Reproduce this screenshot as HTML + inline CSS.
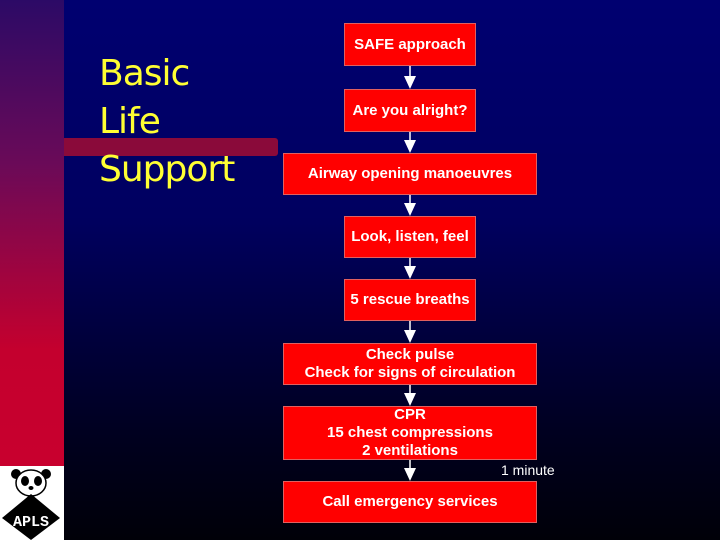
<!DOCTYPE html>
<html style="background:#000008"><head><style>
html,body{margin:0;width:720px;height:540px;overflow:hidden}
body{position:relative;background:linear-gradient(#000070 0%,#000060 40%,#000020 80%,#000008 100%);font-family:"Liberation Sans",sans-serif}
.strip{position:absolute;left:0;top:0;width:64px;height:466px;background:linear-gradient(#2c0a66 0%,#6a0a58 35%,#c4002e 75%,#c8002e 100%)}
.logo{position:absolute;left:0;top:466px;width:64px;height:74px;background:#fff}
.bar{position:absolute;left:64px;top:138px;width:214px;height:18px;background:#8a0a3a;border-radius:0 3px 3px 0}
.title{position:absolute;left:99px;top:50px;color:#ffff33;font-family:"DejaVu Sans","Liberation Sans",sans-serif;font-size:36px;line-height:48px;letter-spacing:-1px}
.b{position:absolute;background:#ff0000;border:1px solid #e06060;box-sizing:border-box;color:#fff;font-weight:bold;font-size:15px;display:flex;align-items:center;justify-content:center;text-align:center;line-height:18px}
.n{left:344px;width:132px}.w{left:283px;width:254px}
.min{position:absolute;left:501px;top:462px;color:#fff;font-size:14px}
</style></head><body>
<div class="strip"></div>
<div class="logo"><svg width="64" height="74" viewBox="0 0 64 74">
<circle cx="16" cy="8" r="5" fill="#000"/><circle cx="46" cy="8" r="5" fill="#000"/>
<ellipse cx="31" cy="17" rx="15" ry="13" fill="#fff" stroke="#000" stroke-width="1.5"/>
<ellipse cx="25" cy="15" rx="4" ry="5" fill="#000"/><ellipse cx="38" cy="15" rx="4" ry="5" fill="#000"/>
<ellipse cx="31" cy="22" rx="2.5" ry="2" fill="#000"/>
<polygon points="31,28 60,52 31,74 2,52" fill="#000"/>
<text x="31" y="60" fill="#fff" font-size="15" font-weight="bold" text-anchor="middle" font-family="Liberation Mono,monospace">APLS</text>
</svg></div>
<div class="bar"></div>
<div class="title">Basic<br>Life<br>Support</div>
<svg style="position:absolute;left:0;top:0" width="720" height="540">
<g stroke="#fff" stroke-width="1.5" fill="#fff">
<line x1="410" y1="66" x2="410" y2="78"/><polygon points="404,76 416,76 410,89" stroke="none"/>
<line x1="410" y1="132" x2="410" y2="142"/><polygon points="404,140 416,140 410,153" stroke="none"/>
<line x1="410" y1="195" x2="410" y2="205"/><polygon points="404,203 416,203 410,216" stroke="none"/>
<line x1="410" y1="258" x2="410" y2="268"/><polygon points="404,266 416,266 410,279" stroke="none"/>
<line x1="410" y1="321" x2="410" y2="332"/><polygon points="404,330 416,330 410,343" stroke="none"/>
<line x1="410" y1="385" x2="410" y2="395"/><polygon points="404,393 416,393 410,406" stroke="none"/>
<line x1="410" y1="460" x2="410" y2="470"/><polygon points="404,468 416,468 410,481" stroke="none"/>
</g></svg>
<div class="b n" style="top:23px;height:43px">SAFE approach</div>
<div class="b n" style="top:89px;height:43px">Are you alright?</div>
<div class="b w" style="top:153px;height:42px">Airway opening manoeuvres</div>
<div class="b n" style="top:216px;height:42px">Look, listen, feel</div>
<div class="b n" style="top:279px;height:42px">5 rescue breaths</div>
<div class="b w" style="top:343px;height:42px">Check pulse<br>Check for signs of circulation</div>
<div class="b w" style="top:406px;height:54px">CPR<br>15 chest compressions<br>2 ventilations</div>
<div class="min">1 minute</div>
<div class="b w" style="top:481px;height:42px">Call emergency services</div>
</body></html>
